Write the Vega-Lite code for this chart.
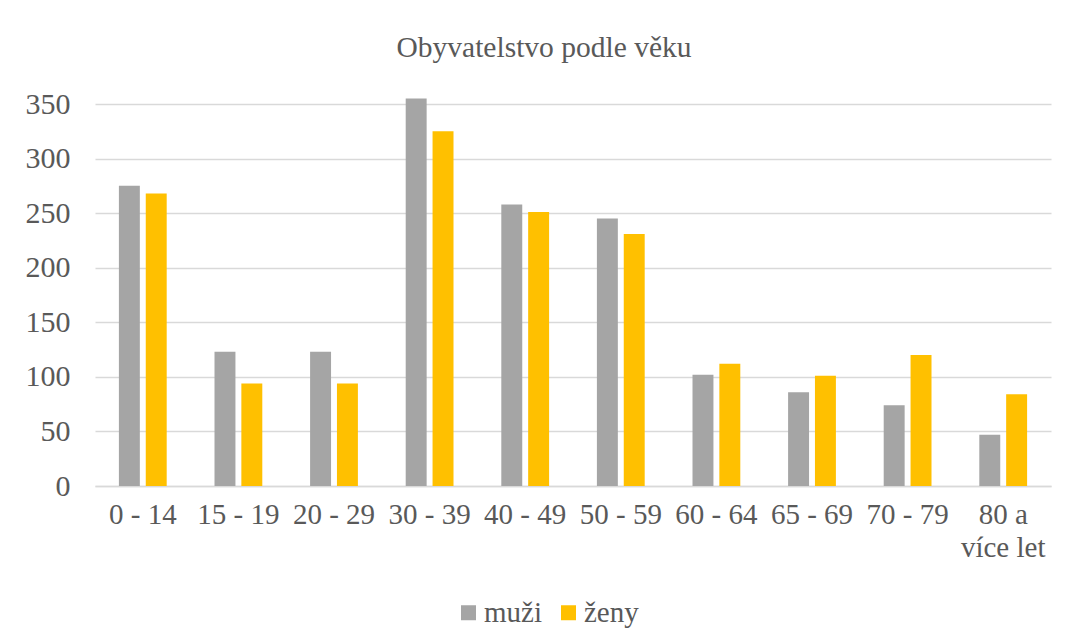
{
  "$schema": "https://vega.github.io/schema/vega-lite/v6.json",
  "autosize": {"type": "none"},
  "width": 956,
  "height": 382,
  "padding": {"left": 95, "top": 104, "right": 14, "bottom": 158},
  "background": "white",
  "config": {
    "font": "Liberation Serif",
    "view": {"stroke": null}
  },
  "title": {
    "text": "Obyvatelstvo podle věku",
    "fontSize": 29.5,
    "fontWeight": "normal",
    "color": "#595959",
    "font": "Liberation Serif",
    "anchor": "middle",
    "dx": -29,
    "offset": 26
  },
  "data": {
    "values": [
      {"vek": "0 - 14", "pohlavi": "muži", "pocet": 275},
      {"vek": "0 - 14", "pohlavi": "ženy", "pocet": 268},
      {"vek": "15 - 19", "pohlavi": "muži", "pocet": 123},
      {"vek": "15 - 19", "pohlavi": "ženy", "pocet": 94},
      {"vek": "20 - 29", "pohlavi": "muži", "pocet": 123},
      {"vek": "20 - 29", "pohlavi": "ženy", "pocet": 94},
      {"vek": "30 - 39", "pohlavi": "muži", "pocet": 355},
      {"vek": "30 - 39", "pohlavi": "ženy", "pocet": 325},
      {"vek": "40 - 49", "pohlavi": "muži", "pocet": 258},
      {"vek": "40 - 49", "pohlavi": "ženy", "pocet": 251},
      {"vek": "50 - 59", "pohlavi": "muži", "pocet": 245},
      {"vek": "50 - 59", "pohlavi": "ženy", "pocet": 231},
      {"vek": "60 - 64", "pohlavi": "muži", "pocet": 102},
      {"vek": "60 - 64", "pohlavi": "ženy", "pocet": 112},
      {"vek": "65 - 69", "pohlavi": "muži", "pocet": 86},
      {"vek": "65 - 69", "pohlavi": "ženy", "pocet": 101},
      {"vek": "70 - 79", "pohlavi": "muži", "pocet": 74},
      {"vek": "70 - 79", "pohlavi": "ženy", "pocet": 120},
      {"vek": "80 a více let", "pohlavi": "muži", "pocet": 47},
      {"vek": "80 a více let", "pohlavi": "ženy", "pocet": 84}
    ]
  },
  "mark": {"type": "bar"},
  "encoding": {
    "x": {
      "field": "vek",
      "type": "nominal",
      "sort": null,
      "scale": {"paddingInner": 0.5, "paddingOuter": 0.25},
      "axis": {
        "title": null,
        "labelAngle": 0,
        "labelFontSize": 29,
        "labelColor": "#595959",
        "labelFont": "Liberation Serif",
        "labelPadding": 14,
        "labelLineHeight": 33,
        "labelExpr": "datum.label == '80 a více let' ? ['80 a', 'více let'] : datum.label",
        "ticks": false,
        "domain": true,
        "domainColor": "#D9D9D9",
        "domainWidth": 1.5,
        "grid": false
      }
    },
    "xOffset": {
      "field": "pohlavi",
      "type": "nominal",
      "scale": {"paddingInner": 0.22, "paddingOuter": 0}
    },
    "y": {
      "field": "pocet",
      "type": "quantitative",
      "scale": {"domain": [0, 350]},
      "axis": {
        "title": null,
        "values": [0, 50, 100, 150, 200, 250, 300, 350],
        "labelFontSize": 30,
        "labelColor": "#595959",
        "labelFont": "Liberation Serif",
        "labelPadding": 25,
        "ticks": false,
        "domain": false,
        "grid": true,
        "gridColor": "#D9D9D9",
        "gridWidth": 1.5
      }
    },
    "color": {
      "field": "pohlavi",
      "type": "nominal",
      "scale": {"domain": ["muži", "ženy"], "range": ["#A5A5A5", "#FFC000"]},
      "legend": {
        "title": null,
        "orient": "none",
        "legendX": 359,
        "legendY": 494,
        "direction": "horizontal",
        "symbolType": "square",
        "symbolSize": 225,
        "symbolStrokeWidth": 0,
        "labelFontSize": 29,
        "labelColor": "#595959",
        "labelFont": "Liberation Serif",
        "labelOffset": 1,
        "columnPadding": 12,
        "padding": 0
      }
    }
  }
}
